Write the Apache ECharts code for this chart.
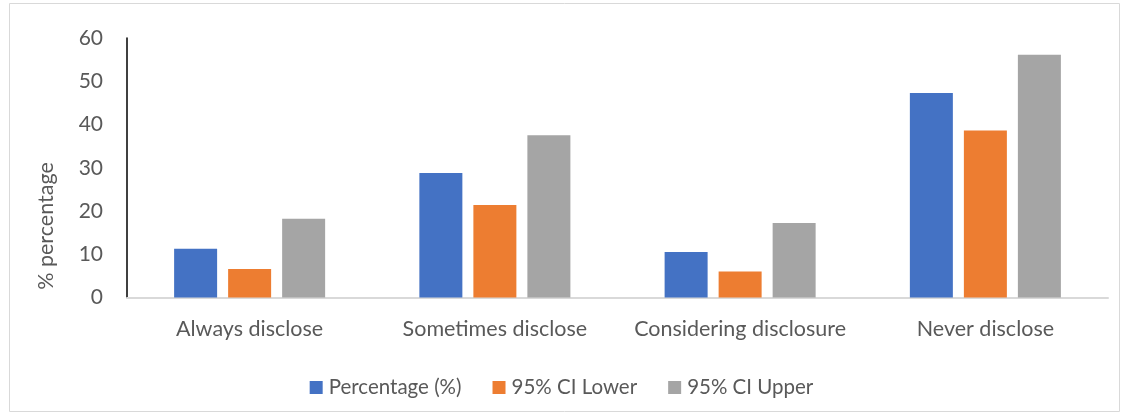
<!DOCTYPE html>
<html><head><meta charset="utf-8">
<script src="https://cdn.jsdelivr.net/npm/echarts@6/dist/echarts.min.js"></script>
<style>html,body{margin:0;padding:0;background:#fff}#c{width:1123px;height:414px}</style>
</head><body><div id="c"></div>
<script>
var categories = ["Always disclose", "Sometimes disclose", "Considering disclosure", "Never disclose"];
var seriesNames = ["Percentage (%)", "95% CI Lower", "95% CI Upper"];
var percentage = [11.3, 28.8, 10.5, 47.3];
var ciLower = [6.6, 21.4, 6.0, 38.6];
var ciUpper = [18.2, 37.5, 17.2, 56.1];
var yTicks = [0, 10, 20, 30, 40, 50, 60];
var colors = ["#4472C4", "#ED7D31", "#A5A5A5"];
var FONT = "Lato";
var chart = echarts.init(document.getElementById('c'));
var values = [percentage, ciLower, ciUpper];
chart.setOption({
  animation: false,
  textStyle: {fontFamily: FONT},
  grid: {left: 127, right: 15, top: 38, bottom: 116.5, containLabel: false},
  legend: {
    top: 372, left: 'center', itemWidth: 13, itemHeight: 13, itemGap: 31, icon: 'rect',
    textStyle: {fontFamily: FONT, fontSize: 20.5, color: '#595959', padding: [0,0,0,1]},
    data: seriesNames
  },
  xAxis: {
    type: 'category', data: categories,
    axisLine: {lineStyle: {color: '#d9d9d9', width: 2}},
    axisTick: {show: false},
    axisLabel: {fontFamily: FONT, fontSize: 21.5, color: '#595959', margin: 21, interval: 0}
  },
  yAxis: {
    type: 'value', min: yTicks[0], max: yTicks[yTicks.length-1], interval: 10,
    axisLine: {show: true, lineStyle: {color: '#000', width: 1.5}},
    axisTick: {show: false},
    splitLine: {show: false},
    axisLabel: {fontFamily: FONT, fontSize: 21, color: '#595959', margin: 24}
  },
  graphic: [
    {type: 'rect', left: 7, top: 1, shape: {width: 1110, height: 408}, style: {fill: 'none', stroke: '#d9d9d9', lineWidth: 1}, silent: true},
    {type: 'text', x: 46, y: 226, rotation: Math.PI/2, style: {text: '% percentage', fontFamily: FONT, fontSize: 21.5, fill: '#595959', align: 'center', verticalAlign: 'middle'}}
  ],
  series: seriesNames.map(function(n, i){
    return {name: n, type: 'bar', data: values[i], barWidth: 43, barGap: '25.6%',
      itemStyle: {color: colors[i]}};
  })
});
</script></body></html>
